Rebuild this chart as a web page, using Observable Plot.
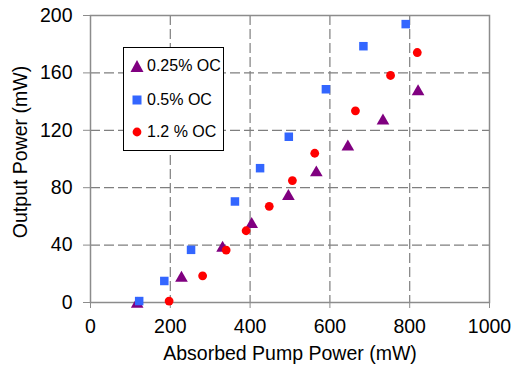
<!DOCTYPE html>
<html>
<head>
<meta charset="utf-8">
<script src="https://cdn.jsdelivr.net/npm/d3@7"></script>
<script src="https://cdn.jsdelivr.net/npm/@observablehq/plot@0.6"></script>
<style>
  html, body { margin: 0; padding: 0; background: #fff; }
  #wrap { position: relative; width: 512px; height: 366px; font-family: "Liberation Sans", Arial, Helvetica, sans-serif; }
  #legend { position: absolute; left: 123px; top: 47px; width: 101px; height: 104px; border: 1.5px solid #000; background: #fff; box-sizing: border-box; }
  .entry { position: absolute; left: 6px; height: 20px; display: flex; align-items: center; font-size: 16px; color: #000; white-space: nowrap; }
  .entry svg { margin-right: 3px; }
</style>
</head>
<body>
<div id="wrap">
  <div id="chart"></div>
  <div id="legend"></div>
</div>
<script>
const xTicks = [0, 200, 400, 600, 800, 1000];
const yTicks = [0, 40, 80, 120, 160, 200];
const seriesNames = ["0.25% OC", "0.5% OC", "1.2 % OC"];
const seriesColors = ["#800080", "#3366ff", "#ff0000"];
const seriesSymbols = ["triangle", "square", "circle"];

const oc025X = [117, 228, 331, 404, 496, 566, 645, 733, 821];
const oc025Y = [0, 18, 39, 55.5, 75, 91.5, 109.6, 127.7, 148];
const oc05X = [122, 185, 252, 362, 425, 497, 590, 684, 790];
const oc05Y = [1, 15, 36.7, 70.4, 93.6, 115.5, 148.6, 178.6, 194];
const oc12X = [197, 281, 340, 390, 448, 506, 562, 664, 752, 819];
const oc12Y = [1, 18.6, 36.5, 50, 67, 85, 104, 133.6, 158.2, 174.2];

const xLabel = "Absorbed Pump Power (mW)";
const yLabel = "Output Power (mW)";

const toRows = (xs, ys) => xs.map((x, i) => ({x, y: ys[i]}));
const s025 = toRows(oc025X, oc025Y);
const s05 = toRows(oc05X, oc05Y);
const s12 = toRows(oc12X, oc12Y);

const gridStyle = {stroke: "#7f7f7f", strokeOpacity: 1, strokeWidth: 1.2, strokeDasharray: "10,4"};
const fmt = d => String(d);

const chart = Plot.plot({
  width: 512,
  height: 366,
  marginLeft: 90,
  marginRight: 23,
  marginTop: 15,
  marginBottom: 64,
  style: {fontFamily: "'Liberation Sans', Arial, Helvetica, sans-serif", fontSize: "20px", color: "#000", background: "#fff"},
  x: {domain: [0, 1000]},
  y: {domain: [0, 200]},
  marks: [
    Plot.gridX(xTicks.slice(1, -1), gridStyle),
    Plot.gridY(yTicks.slice(1, -1), gridStyle),
    Plot.frame({stroke: "#8c8c8c", strokeWidth: 1.5}),
    Plot.axisX(xTicks, {tickSize: 6, tickPadding: 11, tickFormat: fmt, label: null, stroke: "#8c8c8c", fill: "#000", fontSize: 19.5}),
    Plot.axisY(yTicks, {tickSize: 7, tickPadding: 11, tickFormat: fmt, label: null, stroke: "#8c8c8c", fill: "#000", fontSize: 19.5}),
    Plot.text([xLabel], {frameAnchor: "bottom", dy: 51, lineAnchor: "middle", fontSize: 19.5, fill: "#000"}),
    Plot.text([yLabel], {frameAnchor: "left", dx: -70, dy: -7, rotate: -90, textAnchor: "middle", lineAnchor: "middle", fontSize: 19.5, fill: "#000"}),
    Plot.dot(s025, {x: "x", y: "y", symbol: seriesSymbols[0], r: 4.7, fill: seriesColors[0], stroke: "none", dy: 1.5}),
    Plot.dot(s05, {x: "x", y: "y", symbol: seriesSymbols[1], r: 4.8, fill: seriesColors[1], stroke: "none"}),
    Plot.dot(s12, {x: "x", y: "y", symbol: seriesSymbols[2], r: 4.4, fill: seriesColors[2], stroke: "none"})
  ]
});
document.getElementById("chart").appendChild(chart);

// Legend
const legend = document.getElementById("legend");
const tops = [8, 42, 74];
const shapes = [
  c => `<svg width="14" height="14"><polygon points="7,1 13.5,13 0.5,13" fill="${c}"/></svg>`,
  c => `<svg width="14" height="14"><rect x="2.5" y="2.5" width="9" height="9" fill="${c}"/></svg>`,
  c => `<svg width="14" height="14"><circle cx="7" cy="7" r="4.4" fill="${c}"/></svg>`
];
seriesNames.forEach((name, i) => {
  const e = document.createElement("div");
  e.className = "entry";
  e.style.top = tops[i] + "px";
  e.innerHTML = shapes[i](seriesColors[i]) + `<span>${name}</span>`;
  legend.appendChild(e);
});
</script>
</body>
</html>
